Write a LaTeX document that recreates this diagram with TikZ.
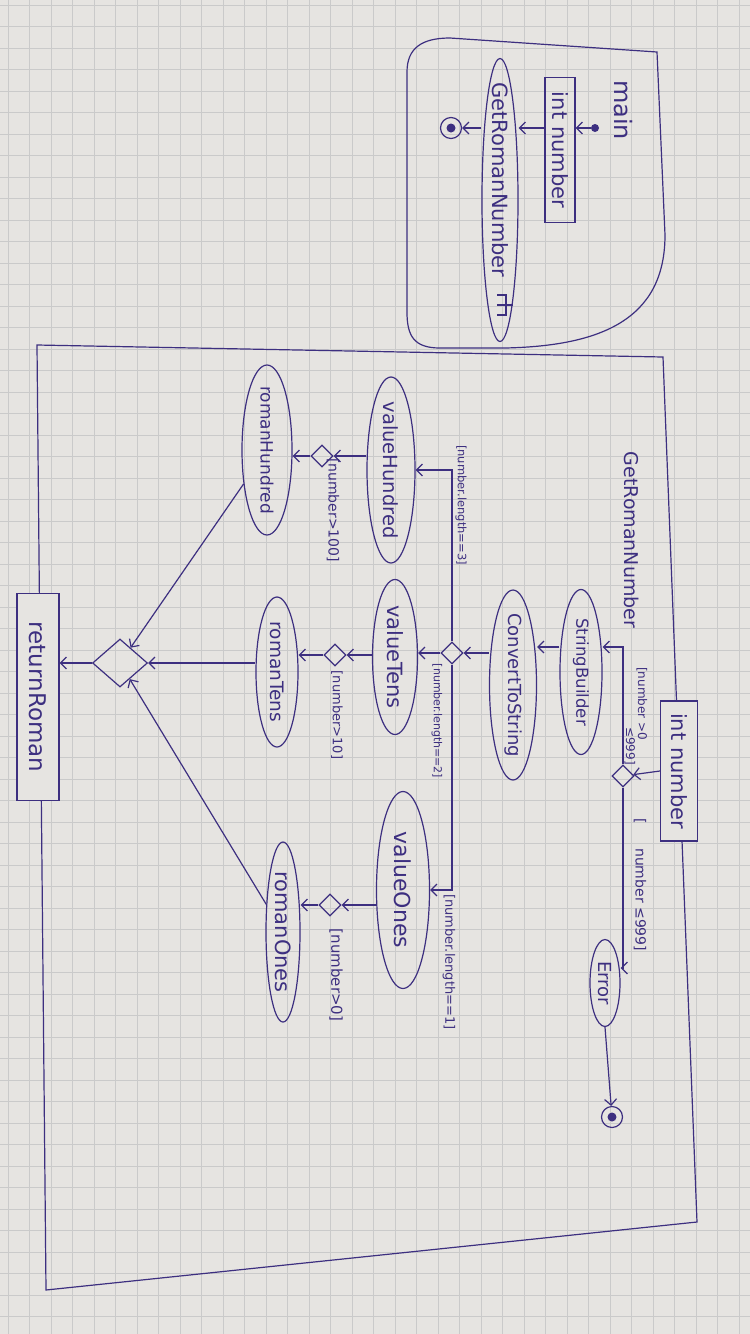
\documentclass[tikz,border=0pt]{standalone}
\usepackage{fontspec}
\setmainfont{DejaVu Sans}
\usetikzlibrary{shapes.geometric,arrows.meta,positioning}
\definecolor{ink}{HTML}{3D2F80}
\definecolor{paper}{HTML}{E6E4E1}
\definecolor{gridgray}{HTML}{CACACA}
\newcommand{\fsz}[1]{\fontsize{#1}{#1}\selectfont}
\tikzset{>={Straight Barb[length=6pt,width=12pt]}}
\tikzset{
  flow/.style={draw=ink, line width=1.2pt, ->},
  frameline/.style={draw=ink, line width=1.2pt},
  gridline/.style={draw=gridgray, line width=0.6pt},
  oval/.style={ellipse, draw=ink, line width=1.2pt, text=ink, rotate=-90, inner xsep=-8pt, inner ysep=0pt},
  objbox/.style={rectangle, draw=ink, line width=1.2pt, text=ink, rotate=-90, inner sep=1pt},
  choice/.style={diamond, draw=ink, line width=1.2pt, inner sep=0pt, minimum size=22pt},
  guard/.style={text=ink, rotate=-90, inner sep=0pt},
  titletext/.style={text=ink, rotate=-90, inner sep=0pt},
  startnode/.style={circle, fill=ink, minimum size=8pt, inner sep=0pt},
  endnode/.style={circle, draw=ink, line width=1.2pt, minimum size=21pt, inner sep=0pt,
    path picture={\fill[ink] (path picture bounding box.center) circle (4.5pt);}}
}
\begin{document}
\begin{tikzpicture}[x=1pt, y=-1pt]
  \useasboundingbox (0,0) rectangle (750,1334);

  % Paper
  \fill[paper] (0,0) rectangle (750,1334);
  \foreach \gx in {8,29.5,...,750}
    \draw[gridline] (\gx,0) -- (\gx,1334);
  \foreach \gy in {5,26.5,...,1334}
    \draw[gridline] (0,\gy) -- (750,\gy);

  % main
  \draw[frameline] (450,38) -- (657,52) -- (665,235)
    .. controls (665,320) and (600,346) .. (505,348) -- (440,348)
    .. controls (414,348) and (407,336) .. (407,312) -- (407,72)
    .. controls (407,48) and (422,38) .. (450,38);
  \node[titletext, font=\fsz{24}] (mainTitle) at (623,110) {main};
  \node[startnode] (mainStart) at (595,128) {};
  \node[objbox, minimum width=145pt, minimum height=30pt, font=\fsz{21}] (numBox) at (560,150) {int number};
  \node[oval, minimum width=283pt, minimum height=36pt, inner xsep=-22pt, font=\fsz{21}] (callRoman) at (500,200) {GetRomanNumber\kern40pt\null};
  \draw[frameline] (callRoman.center) ++(-3,95) -- ++(9,0) -- ++(0,20) -- ++(-9,0)
    ++(9,-10) -- ++(-9,0) ++(9,0) -- ++(7,0);
  \node[endnode] (mainEnd) at (451,128) {};

  \draw[flow] (mainStart) -- (numBox.north |- mainStart);
  \draw[flow] (numBox.south |- mainStart) -- (callRoman.north |- mainStart);
  \draw[flow] (callRoman.south |- mainStart) -- (mainEnd);

  % GetRomanNumber
  \draw[frameline] (37,345) -- (663,357) -- (697,1222) -- (46,1290) -- cycle;
  \node[titletext, font=\fsz{19}] (subTitle) at (632,540) {GetRomanNumber};
  \node[objbox, fill=paper, minimum width=140pt, minimum height=37pt, font=\fsz{21}] (inPin) at (679,771) {int number};
  \node[objbox, fill=paper, minimum width=207pt, minimum height=42pt, font=\fsz{23}] (outPin) at (38,697) {returnRoman};

  % Range check
  \node[choice] (rangeCheck) at (623,776) {};
  \node[oval, minimum width=165pt, minimum height=42pt, font=\fsz{16.5}] (stringBuilder) at (581,672) {StringBuilder};
  \node[oval, minimum width=190pt, minimum height=47pt, font=\fsz{18}] (convertString) at (513,685) {ConvertToString};
  \node[oval, minimum width=87pt, minimum height=30pt, font=\fsz{18}] (errorNode) at (605,983) {Error};
  \node[endnode] (errorEnd) at (612,1117) {};
  \coordinate (upperRow) at (0,647);
  \coordinate (errorRow) at (0,968);

  % Length check
  \node[choice] (lengthCheck) at (452,653) {};
  \node[oval, minimum width=186pt, minimum height=48pt, font=\fsz{19.5}] (valueHundred) at (391,470) {valueHundred};
  \node[oval, minimum width=155pt, minimum height=45pt, font=\fsz{21}] (valueTens) at (395,657) {valueTens};
  \node[oval, minimum width=197pt, minimum height=53pt, font=\fsz{22}] (valueOnes) at (403,890) {valueOnes};

  % Digits
  \node[choice] (hundredCheck) at (322,456) {};
  \node[choice] (tensCheck) at (335,655) {};
  \node[choice] (onesCheck) at (330,905) {};
  \node[oval, minimum width=170pt, minimum height=50pt, font=\fsz{17}] (romanHundred) at (267,450) {romanHundred};
  \node[oval, minimum width=150pt, minimum height=42pt, font=\fsz{18.5}] (romanTens) at (277,672) {romanTens};
  \node[oval, minimum width=180pt, minimum height=34pt, font=\fsz{21}] (romanOnes) at (283,932) {romanOnes};

  % Merge
  \node[choice, minimum width=55pt, minimum height=48pt] (mergeAll) at (120,663) {};

  \draw[flow] (inPin.south) -- (rangeCheck);
  \draw[flow] (rangeCheck.north) |- (stringBuilder.north |- upperRow);
  \draw[flow] (stringBuilder.south |- upperRow) -- (convertString.north |- upperRow);
  \draw[flow] (rangeCheck.south) |- (errorNode.north |- errorRow);
  \draw[flow] (errorNode.east) -- (errorEnd);
  \draw[flow] (convertString.south |- lengthCheck) -- (lengthCheck);

  \draw[flow] (lengthCheck.north) |- (valueHundred.north);
  \draw[flow] (lengthCheck.west) -- (valueTens.north |- lengthCheck.west);
  \draw[flow] (lengthCheck.south) |- (valueOnes.north);

  \draw[flow] (valueHundred.south |- hundredCheck) -- (hundredCheck);
  \draw[flow] (hundredCheck) -- (romanHundred.north |- hundredCheck);
  \draw[flow] (valueTens.south |- tensCheck) -- (tensCheck);
  \draw[flow] (tensCheck) -- (romanTens.north |- tensCheck);
  \draw[flow] (valueOnes.south |- onesCheck) -- (onesCheck);
  \draw[flow] (onesCheck) -- (romanOnes.north |- onesCheck);

  \draw[flow] (romanHundred) -- (mergeAll);
  \draw[flow] (romanTens.south |- mergeAll) -- (mergeAll);
  \draw[flow] (romanOnes) -- (mergeAll);
  \draw[flow] (mergeAll) -- (outPin.north |- mergeAll);

  % Guards
  \node[guard, font=\fsz{12}, align=left] (guardRange) at (636,716) {[number >0\\\hspace{60pt}≤999]};
  \node[guard, font=\fsz{14}] (guardError) at (640,885) {[\hspace{24pt}number ≤999]};
  \node[guard, font=\fsz{11.5}] (guardThree) at (461,505) {[number.length==3]};
  \node[guard, font=\fsz{11}] (guardTwo) at (437,721) {[number.length==2]};
  \node[guard, font=\fsz{13}] (guardOne) at (449,962) {[number.length==1]};
  \node[guard, font=\fsz{14}] (guardHundred) at (333,510) {[number>100]};
  \node[guard, font=\fsz{13}] (guardTen) at (337,715) {[number>10]};
  \node[guard, font=\fsz{15}] (guardOnes) at (336,975) {[number>0]};
\end{tikzpicture}
\end{document}
